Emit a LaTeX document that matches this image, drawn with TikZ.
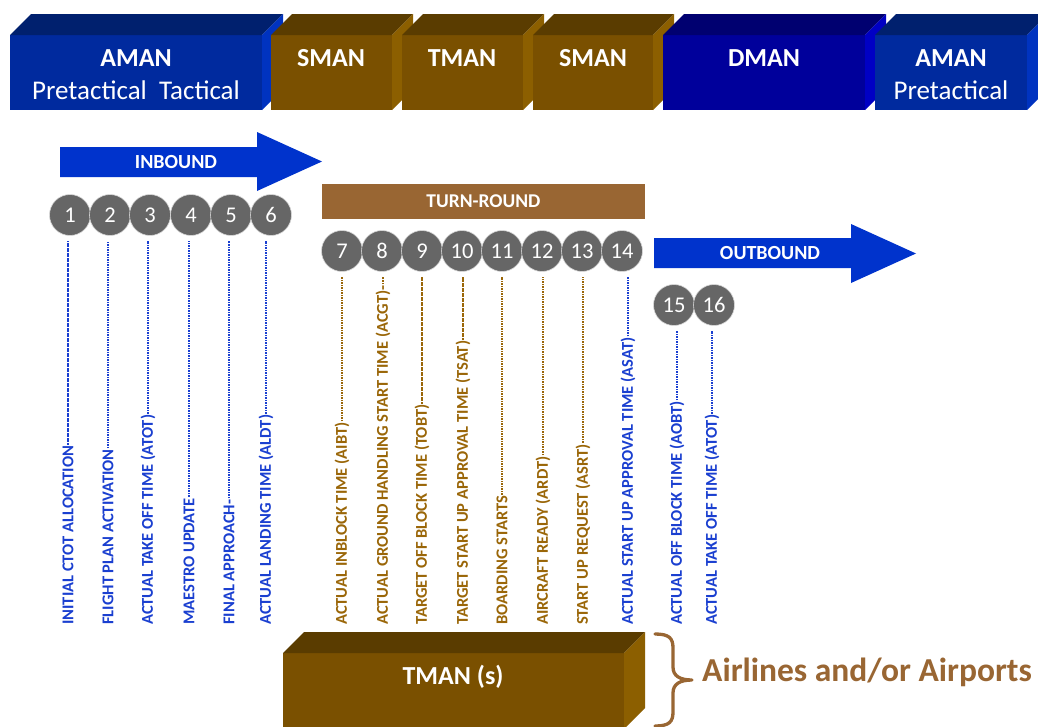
\documentclass[tikz,border=0pt]{standalone}
\usepackage{fontspec}
\setmainfont{Carlito}
\definecolor{amanfront}{HTML}{002A9E}
\definecolor{amantop}{HTML}{00206E}
\definecolor{amanside}{HTML}{0033C0}
\definecolor{dmanfront}{HTML}{00009B}
\definecolor{dmantop}{HTML}{000070}
\definecolor{dmanside}{HTML}{0000C4}
\definecolor{brfront}{HTML}{7A5000}
\definecolor{brtop}{HTML}{5A3C00}
\definecolor{brside}{HTML}{8C5F00}
\definecolor{arrowblue}{HTML}{0033CC}
\definecolor{turnbrown}{HTML}{996633}
\definecolor{labblue}{HTML}{1A3FD0}
\definecolor{labbrown}{HTML}{9A6608}
\definecolor{dotgray}{HTML}{666666}
% a 3-D block: name, x1, y1, x2, y2 of the front face, front/top/side colours
\newcommand\manblock[8]{%
  \node[face, fill=#6, minimum width={#4-#2}, minimum height={#5-#3}] (#1) at ({(#2+#4)/2},{(#3+#5)/2}) {};
  \fill[#7] (#1.north west) -- ++(21,-21) -- ([shift={(21,-21)}]#1.north east) -- (#1.north east) -- cycle;
  \fill[#8] (#1.north east) -- ++(21,-21) -- ([shift={(21,-21)}]#1.south east) -- (#1.south east) -- cycle;
}
\tikzset{
  face/.style={rectangle, inner sep=0pt, outer sep=0pt, draw=none},
  boxtitle/.style={text=white, font=\bfseries\fontsize{26}{26}\selectfont, inner sep=0pt},
  boxsub/.style={text=white, font=\fontsize{27}{27}\selectfont, inner sep=0pt},
  bandtext/.style={text=white, font=\bfseries\fontsize{20}{20}\selectfont, inner sep=0pt},
  num/.style={circle, fill=dotgray, draw=white!75!dotgray, line width=0.6pt, minimum size=41pt, inner sep=0pt, text=white, font=\fontsize{22.5}{22.5}\selectfont},
  vlab/.style={rotate=90, anchor=west, inner sep=0pt, font=\bfseries\fontsize{16.5}{16.5}\selectfont},
  dashline/.style={line width=1.1pt, dash pattern=on 1.6pt off 0.9pt, shorten <=1pt, shorten >=5pt},
}
\begin{document}
\begin{tikzpicture}[x=1pt, y=-1pt]
\clip (0,0) rectangle (1038,726);
\fill[white] (0,0) rectangle (1038,726);

% top row of managers
\manblock{aman}{10}{35}{262}{110}{amanfront}{amantop}{amanside}
\manblock{smana}{271}{35}{392}{110}{brfront}{brtop}{brside}
\manblock{tman}{402}{35}{523}{110}{brfront}{brtop}{brside}
\manblock{smanb}{533}{35}{653}{110}{brfront}{brtop}{brside}
\manblock{dman}{663}{35}{865}{110}{dmanfront}{dmantop}{dmanside}
\manblock{amanb}{875}{35}{1027}{110}{amanfront}{amantop}{amanside}

\node[boxtitle] at (136,58) {AMAN};
\node[boxsub] at (136,90) {Pretactical\ \ Tactical};
\node[boxtitle] at (331,58) {SMAN};
\node[boxtitle] at (462,58) {TMAN};
\node[boxtitle] at (593,58) {SMAN};
\node[boxtitle] at (764,58) {DMAN};
\node[boxtitle] at (951,58) {AMAN};
\node[boxsub] at (951,90) {Pretactical};

% phase arrows and band
\fill[arrowblue] (60,147) -- (257,147) -- (257,132) -- (322,161.5) -- (257,191) -- (257,177) -- (60,177) -- cycle;
\node[bandtext] (inbound) at (176,162) {INBOUND};
\node[face, fill=turnbrown, minimum width=323pt, minimum height=35pt] (turn) at (483.5,201.5) {};
\node[bandtext, font=\bfseries\fontsize{19.5}{19.5}\selectfont] at (turn) {TURN-ROUND};
\fill[arrowblue] (654,238) -- (851,238) -- (851,224) -- (916,253.5) -- (851,283) -- (851,268) -- (654,268) -- cycle;
\node[bandtext] (outbound) at (770,253) {OUTBOUND};

% milestone numbers
\foreach \i/\x in {1/70,2/110,3/150,4/191,5/231,6/271}
  \node[num] (c\i) at (\x,215) {\i};
\foreach \i/\x in {7/342,8/382,9/422,10/462,11/502,12/542,13/582,14/622}
  \node[num] (c\i) at (\x,251) {\i};
\foreach \i/\x in {15/674,16/714}
  \node[num] (c\i) at (\x,305) {\i};

% milestone descriptions
\foreach \i/\x/\t in {1/68/INITIAL CTOT ALLOCATION,
                      2/108/FLIGHT PLAN ACTIVATION,
                      3/148/ACTUAL TAKE OFF TIME (ATOT),
                      4/189/MAESTRO UPDATE,
                      5/229/FINAL APPROACH-,
                      6/266/ACTUAL LANDING TIME (ALDT),
                      14/628/ACTUAL START UP APPROVAL TIME (ASAT),
                      15/677/ACTUAL OFF BLOCK TIME (AOBT),
                      16/712/ACTUAL TAKE OFF TIME (ATOT)} {
  \node[vlab, text=labblue] (l\i) at (\x,625) {\t};
  \draw[dashline, labblue] (l\i.east) -- (l\i.east |- c\i.south);
}
\foreach \i/\x/\t in {7/342/ACTUAL INBLOCK TIME (AIBT),
                      8/383/ACTUAL GROUND HANDLING START TIME (ACGT)-,
                      9/422/TARGET OFF BLOCK TIME (TOBT),
                      10/463/TARGET START UP APPROVAL TIME (TSAT),
                      11/502/BOARDING STARTS,
                      12/543/AIRCRAFT READY (ARDT),
                      13/583/START UP REQUEST (ASRT)} {
  \node[vlab, text=labbrown] (l\i) at (\x,625) {\t};
  \draw[dashline, labbrown] (l\i.east) -- (l\i.east |- c\i.south);
}

% terminal managers
\manblock{tmans}{283}{653}{624}{729}{brfront}{brtop}{brside}
\node[boxtitle] at (453,677) {TMAN (s)};

\draw[turnbrown, line width=3.3pt, line cap=round, line join=round]
  (655,634) .. controls (669,634) and (673,638) .. (673,648) -- (673,667)
  .. controls (673,676) and (680,680) .. (692,680)
  .. controls (680,680) and (673,684) .. (673,693) -- (673,712)
  .. controls (673,722) and (669,726) .. (655,726);
\node[anchor=west, inner sep=0pt, text=turnbrown, font=\bfseries\fontsize{33.5}{33.5}\selectfont] (owners) at (702,672) {Airlines and/or Airports};
\end{tikzpicture}
\end{document}
